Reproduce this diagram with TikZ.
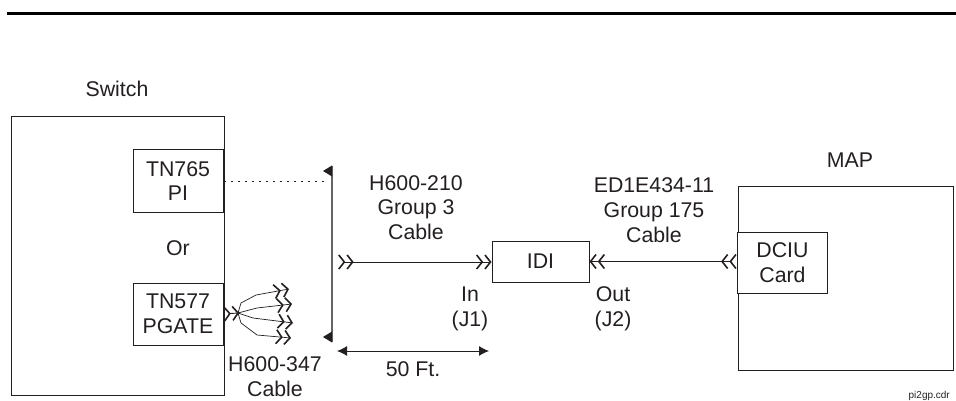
\documentclass[tikz,border=0pt]{standalone}
\usepackage{fontspec}
\setmainfont{Liberation Sans}
\usetikzlibrary{arrows.meta, positioning}
\definecolor{ink}{RGB}{35, 31, 32}
\definecolor{bargray}{RGB}{100, 100, 100}

\tikzset{
    chev/.tip={Straight Barb[length=5.5pt,width=14pt,line width=1.6pt,sep=1pt] Straight Barb[length=5.5pt,width=14pt,line width=1.6pt]},
    revchev/.tip={Straight Barb[reversed,length=5.5pt,width=14pt,line width=1.6pt,sep=1pt] Straight Barb[reversed,length=5.5pt,width=14pt,line width=1.6pt]}
}

\begin{document}
\begin{tikzpicture}[
    x=1pt, y=-1pt,
    every node/.style={text=ink, font=\fontsize{21.3}{24.8}\selectfont},
    box/.style={rectangle, draw=ink, line width=1pt, align=center, fill=white, minimum width=90pt, minimum height=62pt, inner sep=0pt},
    label/.style={align=center, inner sep=0pt},
    wire/.style={ink, line width=0.9pt},
    fanwire/.style={ink, line width=0.7pt, -chev},
    span/.style={ink, line width=1pt, {Latex[length=10pt,width=10pt]}-{Latex[length=10pt,width=10pt]}}
]
\useasboundingbox (0,0) rectangle (956,401);

% Top rule
\coordinate (ruleleft) at (7,13.5);
\coordinate (ruleright) at (956,13.5);
\draw[black, line width=3.3pt] (ruleleft) -- (ruleright);

% Switch
\node[box, minimum width=213pt, minimum height=278pt] (switch) at (117.5,256) {};
\node[label] (switchtitle) at (117,89) {Switch};
\node[box] (tnpi) at (178,181) {TN765\\PI};
\node[box] (tnpgate) at (178,314) {TN577\\PGATE};
\node[label] (ortext) at (178,248) {Or};

% MAP
\node[box, minimum width=215pt, minimum height=184pt] (map) at (845.5,278) {};
\node[label] (maptitle) at (850,160) {MAP};
\node[box, minimum width=90.5pt, minimum height=61pt] (dciu) at (782.5,262.5) {DCIU\\Card};

% IDI
\node[box, minimum width=97pt, minimum height=41pt] (idi) at (540.5,261.5) {IDI};

% Bar
\coordinate (bartop) at (332,166);
\coordinate (barbot) at (332,342);
\draw[bargray, line width=1.6pt] (bartop) -- (barbot);
\fill[ink] (332,165.5) -- (323,171) -- (332,176.5) -- cycle;
\fill[ink] (332,331.5) -- (323,337) -- (332,342.5) -- cycle;
\coordinate (dotend) at (327,181);
\draw[ink, line width=0.8pt, dash pattern=on 2pt off 5pt] (tnpi.east) -- (dotend);

% Cables
\coordinate (cablestart) at (338,262);
\draw[wire, revchev-chev] (cablestart) -- (cablestart -| idi.west);
\draw[wire, chev-revchev] (idi.east) -- (idi.east -| dciu.west);

% Fan
\coordinate (fanroot) at (238,313);
\coordinate (fanone) at (289,289);
\coordinate (fantwo) at (292,304);
\coordinate (fanthree) at (293,323);
\coordinate (fanfour) at (291,338);
\draw[wire, revchev-] (tnpgate.east) -- (fanroot);
\draw[fanwire] (fanroot) -- (241,303) -- (256,295) -- (fanone);
\draw[fanwire] (fanroot) -- (257,308) -- (fantwo);
\draw[fanwire] (fanroot) -- (253,318) -- (fanthree);
\draw[fanwire] (fanroot) -- (241,323) -- (257,335) -- (fanfour);

% Length
\coordinate (spanleft) at (337,351);
\coordinate (spanright) at (489,351);
\draw[span] (spanleft) -- (spanright);
\node[label] (spanlabel) at (413,369) {50 Ft.};

% Labels
\node[label] (cableone) at (416,207.5) {H600-210\\Group 3\\Cable};
\node[label] (cabletwo) at (654,210) {ED1E434-11\\Group 175\\Cable};
\node[label] (inlabel) at (470,308.5) {In\\(J1)};
\node[label] (outlabel) at (613,308.5) {Out\\(J2)};
\node[label] (cablethree) at (275,377) {H600-347\\Cable};
\node[label, font=\fontsize{10}{12}\selectfont, anchor=base east] (filename) at (950,398.5) {pi2gp.cdr};

\end{tikzpicture}
\end{document}
